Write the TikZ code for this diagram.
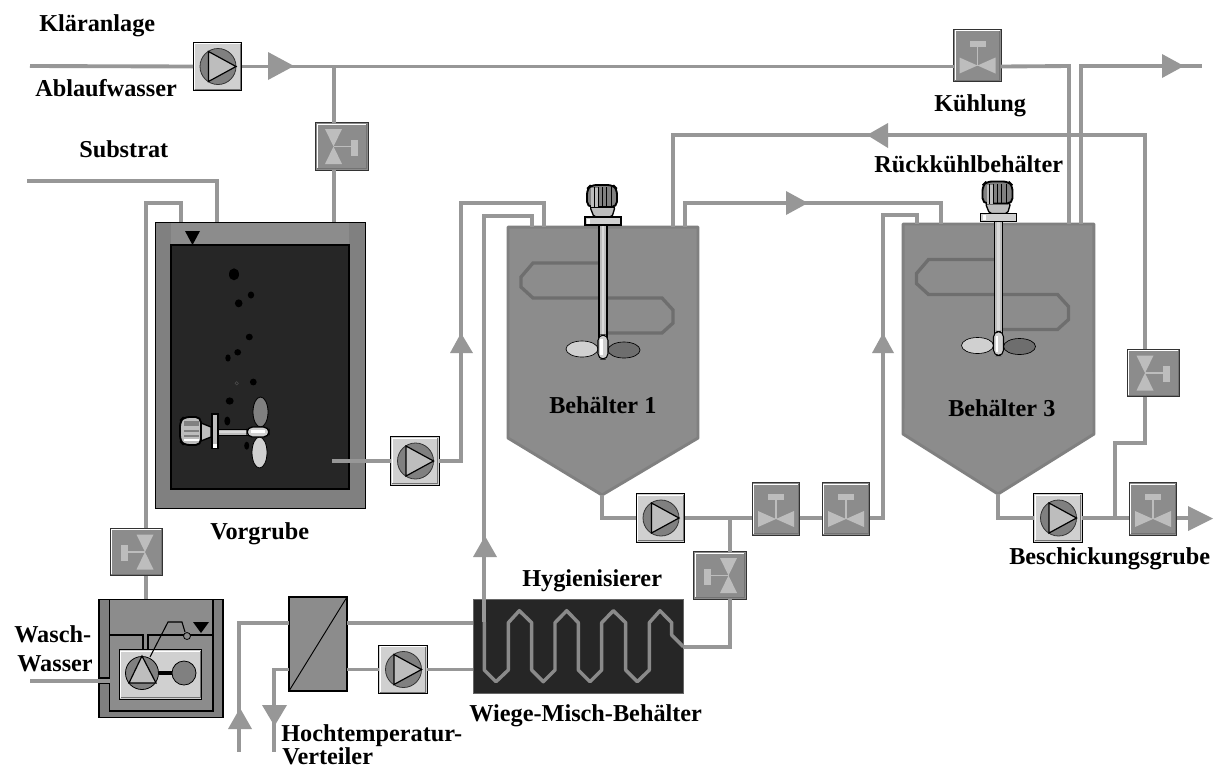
\documentclass[tikz,border=0pt]{standalone}
\usepackage{fontspec}
\setmainfont{Liberation Serif}
\definecolor{pipec}{HTML}{979797}
\definecolor{coilc}{HTML}{8A8A8A}
\definecolor{tankc}{HTML}{8C8C8C}
\definecolor{wallc}{HTML}{808080}
\definecolor{darkc}{HTML}{262626}
\definecolor{lightc}{HTML}{BDBDBD}
\definecolor{boxc}{HTML}{D0D0D0}
\definecolor{bafc}{HTML}{6E6E6E}
\tikzset{
  pipe/.style={draw=pipec,line width=2.9pt,line cap=butt,line join=miter},
  coil/.style={draw=coilc,line width=2.6pt,line join=round},
  arrowfill/.style={fill=pipec},
  lbl/.style={font=\fontsize{18.2}{20}\selectfont\bfseries,anchor=base west,inner sep=0pt,text=black},
  pumpbox/.style={draw=black,line width=0.9pt,fill=boxc,minimum size=36.5pt,inner sep=0pt,outer sep=0pt},
  hvalvebox/.style={draw=black!80,line width=0.9pt,fill=tankc,minimum width=35.5pt,minimum height=39.5pt,inner sep=0pt,outer sep=0pt},
  vvalvebox/.style={draw=black!80,line width=0.9pt,fill=tankc,minimum width=39.5pt,minimum height=35.5pt,inner sep=0pt,outer sep=0pt},
  anchorbox/.style={minimum width=#1,inner sep=0pt,outer sep=0pt},
  bev/.style={line width=0.8pt},
}
\newcommand\Bevel[1]{%
  \draw[bev,white] ([shift={(1.5,-1.5)}]#1.south west) -- ([shift={(1.5,1.5)}]#1.north west) -- ([shift={(-1.5,1.5)}]#1.north east);
  \draw[bev,black!55] ([shift={(1.5,-1.5)}]#1.south west) -- ([shift={(-1.5,-1.5)}]#1.south east) -- ([shift={(-1.5,1.5)}]#1.north east);
}
\newcommand\PumpBox[3]{%
  \node[pumpbox] (#1) at (#2,#3) {};
  \Bevel{#1}
  \begin{scope}[shift={(#2,#3)}]
    \draw[fill=wallc,line width=0.6pt,draw=black!80] (0.5,0) circle (18);
    \draw[fill=lightc,line width=0.9pt,draw=black] (-9,-15) -- (18.5,0) -- (-9,15) -- cycle;
  \end{scope}}
\newcommand\ValveUp[3]{%
  \node[hvalvebox] (#1) at (#2,#3) {};
  \Bevel{#1}
  \begin{scope}[shift={(#2,#3)}]
    \fill[lightc] (-18,2) -- (0,10) -- (-18,18) -- cycle (18,2) -- (0,10) -- (18,18) -- cycle;
    \draw[lightc,line width=0.8pt] (0,-9) -- (0,10);
    \fill[lightc] (-8,-15) rectangle (8,-9);
  \end{scope}}
\newcommand\ValveSide[4]{% name, cx, cy, dir (+1 right, -1 left)
  \node[vvalvebox] (#1) at (#2,#3) {};
  \Bevel{#1}
  \begin{scope}[shift={(#2,#3)},xscale=#4]
    \fill[lightc] (-17,-17.5) -- (-8.5,0) -- (0,-17.5) -- cycle (-17,17.5) -- (-8.5,0) -- (0,17.5) -- cycle;
    \draw[lightc,line width=0.8pt] (-8.5,0) -- (9,0);
    \fill[lightc] (9,-7) rectangle (16,9);
  \end{scope}}
\newcommand\Agitator{%
  \draw[bafc,line width=2.5pt,line join=miter] (599,263) -- (533,263) -- (521,277) -- (521,287) -- (533,298) -- (662,298) -- (673,310) -- (673,323) -- (662,333) -- (607,333);
  \draw[black,fill=lightc,line width=0.8pt] (599,225) rectangle (607,338);
  \fill[white!85!black] (601.5,225) rectangle (604,337);
  \draw[black,fill=boxc,line width=0.5pt] (582,349) ellipse (16 and 8);
  \draw[black,fill=bafc,line width=0.5pt] (624,350) ellipse (16 and 8);
  \draw[black,fill=boxc,line width=0.8pt,rounded corners=4pt] (598,335) rectangle (608,359);
  \fill[white] (600,339) rectangle (602.5,355);
  \draw[black,fill=lightc,line width=1pt,rounded corners=1.5pt] (590,207) -- (594,217) -- (612,217) -- (615,207) -- cycle;
  \draw[black,fill=wallc,line width=1.4pt,rounded corners=4pt] (587,207) -- (587,189) -- (591,185) -- (613,185) -- (617,189) -- (617,207) -- cycle;
  \fill[lightc] (591,188) rectangle (598,207);
  \draw[black,line width=0.6pt] (594,187) -- (594,207) (598,187) -- (598,207) (602,187) -- (602,207) (606,187) -- (606,207) (611,187) -- (611,207);
  \draw[black,fill=boxc,line width=0.9pt] (585,217) rectangle (621,225);
  \fill[white] (587,218.5) rectangle (590,223.5);
}
\begin{document}
\begin{tikzpicture}[x=0.75pt,y=-0.75pt]
\useasboundingbox (0,0) rectangle (1220,769);
\fill[white] (0,0) rectangle (1220,769);

% Vorgrube
\node[draw=black,line width=0.7pt,fill=wallc,minimum width=158pt,minimum height=215pt,inner sep=0pt,outer sep=0pt] (vg) at (260.5,365.5) {};
\fill[tankc] (171,222.5) rectangle (349,245);
\draw[black,line width=0.9pt,fill=darkc] (171,245) rectangle (349,489);
\fill[black] (185,231) -- (200,231) -- (192.5,245) -- cycle;
\foreach \x/\y/\a/\b in {234/274.3/5/6,251/295/3.2/3.5,238.7/303.3/3.8/4,249.3/337/3.5/3.3,237.7/352.3/3.4/3.2,228/358/2.7/3.6,253.3/382/3.4/3.4,229.7/401/4/3.6,227.3/421/3/4.5,246.7/445.7/2.5/4}
  \fill[black] (\x,\y) ellipse (\a pt*0.75 and \b pt*0.75);
\draw[wallc!60!black,line width=0.4pt] (236.7,383.3) circle (1.7);
% horizontal mixer
\draw[black,fill=wallc,line width=0.6pt] (260.5,412) ellipse (7.5 and 15);
\draw[black,fill=boxc,line width=0.6pt] (259.5,452.5) ellipse (7.5 and 15.5);
\draw[black,fill=lightc,line width=0.7pt] (217,429) rectangle (248,435);
\fill[white!85!black] (219,431) rectangle (248,432.6);
\draw[black,fill=boxc,line width=1pt,rounded corners=4pt] (247,427) rectangle (269,437);
\fill[white] (251,430) rectangle (265,433);
\draw[black,fill=lightc,line width=1pt] (201,423) -- (211,427) -- (211,437) -- (201,441) -- cycle;
\draw[black,fill=lightc,line width=1.4pt,rounded corners=4pt] (201,417) -- (184,417) -- (180,421) -- (180,441) -- (184,445) -- (201,445) -- cycle;
\fill[wallc] (184,421) rectangle (199,426);
\fill[wallc] (184,430) rectangle (199,432);
\fill[wallc] (184,435) rectangle (199,437);
\fill[white] (184,438.5) rectangle (199,441);
\draw[black,fill=lightc,line width=1.3pt] (212,414) rectangle (218,448);
\fill[white] (213,444) rectangle (217,447.5);

% Behaelter
\node[anchorbox=142.5pt,minimum height=158pt] (t1) at (603,332.5) {};
\draw[wallc,fill=tankc,line width=2.2pt,line join=round] (t1.north west) -- (t1.north east) -- (698,438) -- (602,495) -- (508,438) -- cycle;
\node[anchorbox=143pt,minimum height=157.5pt] (t3) at (998.5,329) {};
\draw[wallc,fill=tankc,line width=2.2pt,line join=round] (t3.north west) -- (t3.north east) -- (1094,434) -- (998,494) -- (903,434) -- cycle;
\Agitator
\begin{scope}[shift={(395.5,-3.5)}]\Agitator\end{scope}
\coordinate (t1tip) at (602,495);
\coordinate (t3tip) at (998,494);

% Waschwasser
\node[draw=black,line width=0.8pt,fill=wallc,minimum width=93pt,minimum height=89pt,inner sep=0pt,outer sep=0pt] (wt) at (161,658.5) {};
\fill[tankc] (109.5,599.5) rectangle (213,711);
\fill[wallc] (99.5,678) rectangle (109.5,683);
\draw[black,line width=0.9pt] (99.5,678) -- (109.5,678) -- (109.5,599.5);
\draw[black,line width=0.9pt] (99.5,683) -- (109.5,683) -- (109.5,711) -- (213,711) -- (213,599.5);
\draw[black,line width=0.9pt] (109.5,635) -- (143,635) -- (143,650) (148,650) -- (148,635) -- (213,635);
\node[draw=black,line width=0.9pt,fill=boxc,minimum width=62pt,minimum height=37pt,inner sep=0pt,outer sep=0pt] (wp) at (160.5,674.5) {};
\Bevel{wp}
\draw[black,fill=wallc,line width=0.6pt] (142,673) circle (16.5);
\draw[black,fill=lightc,line width=0.9pt] (142,656) -- (156,683) -- (129,683) -- cycle;
\draw[black,fill=wallc,line width=0.6pt] (184,673) circle (12);
\draw[black,line width=2.4pt] (158.5,673) -- (172,673);
\draw[black,line width=0.8pt] (150,657) -- (168,622) -- (182,622) -- (185,632);
\draw[black,fill=tankc,line width=0.6pt] (187,636) circle (3.5);
\fill[black] (193,622) -- (209,622) -- (201,633) -- cycle;

% Waermetauscher, Hygienisierer
\node[draw=black,line width=0.8pt,fill=tankc,minimum width=43.5pt,minimum height=70.5pt,inner sep=0pt,outer sep=0pt] (hx) at (318,644) {};
\draw[black,line width=0.7pt] (hx.south west) -- (hx.north east);
\node[draw=black!60,line width=0.5pt,fill=darkc,minimum width=157.5pt,minimum height=70.5pt,inner sep=0pt,outer sep=0pt] (hy) at (578,646) {};

% Pumpen und Ventile
\PumpBox{pa}{217.5}{66.5}
\PumpBox{pb}{415}{461}
\PumpBox{pc}{403}{669.5}
\PumpBox{pd}{660.5}{518}
\PumpBox{pe}{1058}{518}
\ValveUp{vk}{977.5}{55.5}
\ValveUp{va}{776}{509}
\ValveUp{vb}{846}{509}
\ValveUp{vc}{1153}{509}
\ValveSide{vt}{342}{146.5}{1}
\ValveSide{vr}{1153.5}{373}{1}
\ValveSide{vw}{136.5}{552}{-1}
\ValveSide{vh}{720}{575.5}{-1}

% freie Enden
\coordinate (kin) at (30,66);
\coordinate (kout) at (1202,66);
\coordinate (sub) at (27,181);
\coordinate (win) at (30,681);
\coordinate (hin) at (239,752);
\coordinate (hout) at (274,752);
\coordinate (bout) at (1208,518);

% Leitungen
\draw[pipe] (kin) -- (pa.west);
\draw[pipe] (pa.east) -- (vk.west |- pa.east);
\draw[pipe] (vk.east |- pa.east) -- (1069,66) -- (1069,0 |- t3.north);
\draw[pipe] (334,66) -- (334,0 |- vt.north);
\draw[pipe] (334,0 |- vt.south) -- (334,0 |- vg.north);
\draw[pipe] (sub) -- (217,181) -- (217,0 |- vg.north);
\draw[pipe] (146,0 |- vw.north) -- (146,203) -- (181,203) -- (181,0 |- vg.north);
\draw[pipe] (146,0 |- wt.north) -- (146,0 |- vw.south);
\draw[pipe] (win) -- (109.5,681);
\draw[pipe] (332,461) -- (pb.west);
\draw[pipe] (pb.east) -- (461,461) -- (461,203) -- (544,203) -- (544,0 |- t1.north);
\draw[pipe] (484.3,622) -- (484.3,216) -- (532,216) -- (532,0 |- t1.north);
\draw[pipe] (685,0 |- t1.north) -- (685,203) -- (941,203) -- (941,0 |- t3.north);
\draw[pipe] (673,0 |- t1.north) -- (673,135) -- (1145,135) -- (1145,0 |- vr.north);
\draw[pipe] (1145,0 |- vr.south) -- (1145,443) -- (1115,443) -- (1115,518);
\draw[pipe] (1081,0 |- t3.north) -- (1081,66) -- (kout);
\draw[pipe] (t1tip) -- (602,518) -- (pd.west);
\draw[pipe] (pd.east) -- (va.west |- pd.east);
\draw[pipe] (va.east |- pd.east) -- (vb.west |- pd.east);
\draw[pipe] (vb.east |- pd.east) -- (883,518) -- (883,215) -- (917,215) -- (917,0 |- t3.north);
\draw[pipe] (730,518) -- (730,0 |- vh.north);
\draw[pipe] (t3tip) -- (998,518) -- (pe.west);
\draw[pipe] (pe.east) -- (vc.west |- pe.east);
\draw[pipe] (vc.east |- pe.east) -- (bout);
\draw[pipe] (hx.east |- 0,623) -- (hy.west |- 0,623);
\draw[pipe] (hx.west |- 0,623) -- (239,623) -- (hin);
\draw[pipe] (hx.west |- pc.west) -- (274,669.5) -- (hout);
\draw[pipe] (hx.east |- pc.west) -- (pc.west);
\draw[pipe] (pc.east) -- (hy.west |- pc.east);
\draw[pipe] (683,646.7) -- (730,646.7) -- (730,0 |- vh.south);
\draw[coil] (484.3,622) -- (484.3,670) -- (496,681.7) -- (508.3,670) -- (508.3,622.7) -- (519.3,610.7) -- (531.7,622.7) -- (531.7,670) -- (543.3,681.7) -- (555,670) -- (555,622.7) -- (566.7,610.7) -- (578.3,622.7) -- (578.3,670) -- (590,681.7) -- (601.7,670) -- (601.7,622.7) -- (613.3,610.7) -- (625.7,622.7) -- (625.7,670) -- (637.3,681.7) -- (649.3,670) -- (649.3,622.7) -- (660,610.7) -- (671.7,622.7) -- (671.7,635) -- (683.3,646.7);

% Pfeile
\fill[arrowfill] (268,52) -- (294,66) -- (268,80) -- cycle;
\fill[arrowfill] (1162,54) -- (1184,66) -- (1162,78) -- cycle;
\fill[arrowfill] (888,123) -- (867,135) -- (888,148) -- cycle;
\fill[arrowfill] (786,191) -- (808,203) -- (786,215) -- cycle;
\fill[arrowfill] (450,353) -- (461,333) -- (473,353) -- cycle;
\fill[arrowfill] (872,353) -- (883,333) -- (894,353) -- cycle;
\fill[arrowfill] (473,557) -- (485,536) -- (497,557) -- cycle;
\fill[arrowfill] (228,729) -- (240,708) -- (252,729) -- cycle;
\fill[arrowfill] (262,705) -- (274.5,726) -- (287,705) -- cycle;
\fill[arrowfill] (1188,506) -- (1213,518.5) -- (1188,531) -- cycle;

% Texte
\node[lbl] (l1) at (39,31) {Kläranlage};
\node[lbl] (l2) at (35,96) {Ablaufwasser};
\node[lbl] (l3) at (79,157) {Substrat};
\node[lbl] (l4) at (210,539) {Vorgrube};
\node[lbl] (l5) at (14,642) {Wasch-};
\node[lbl] (l6) at (17,671) {Wasser};
\node[lbl] (l7) at (281,741) {Hochtemperatur-};
\node[lbl] (l8) at (282,764) {Verteiler};
\node[lbl] (l9) at (522,586) {Hygienisierer};
\node[lbl] (l10) at (469,721) {Wiege-Misch-Behälter};
\node[lbl] (l11) at (549,413) {Behälter 1};
\node[lbl] (l12) at (948,416) {Behälter 3};
\node[lbl] (l13) at (1009,564) {Beschickungsgrube};
\node[lbl] (l14) at (934,111) {Kühlung};
\node[lbl] (l15) at (874,172) {Rückkühlbehälter};
\end{tikzpicture}
\end{document}
